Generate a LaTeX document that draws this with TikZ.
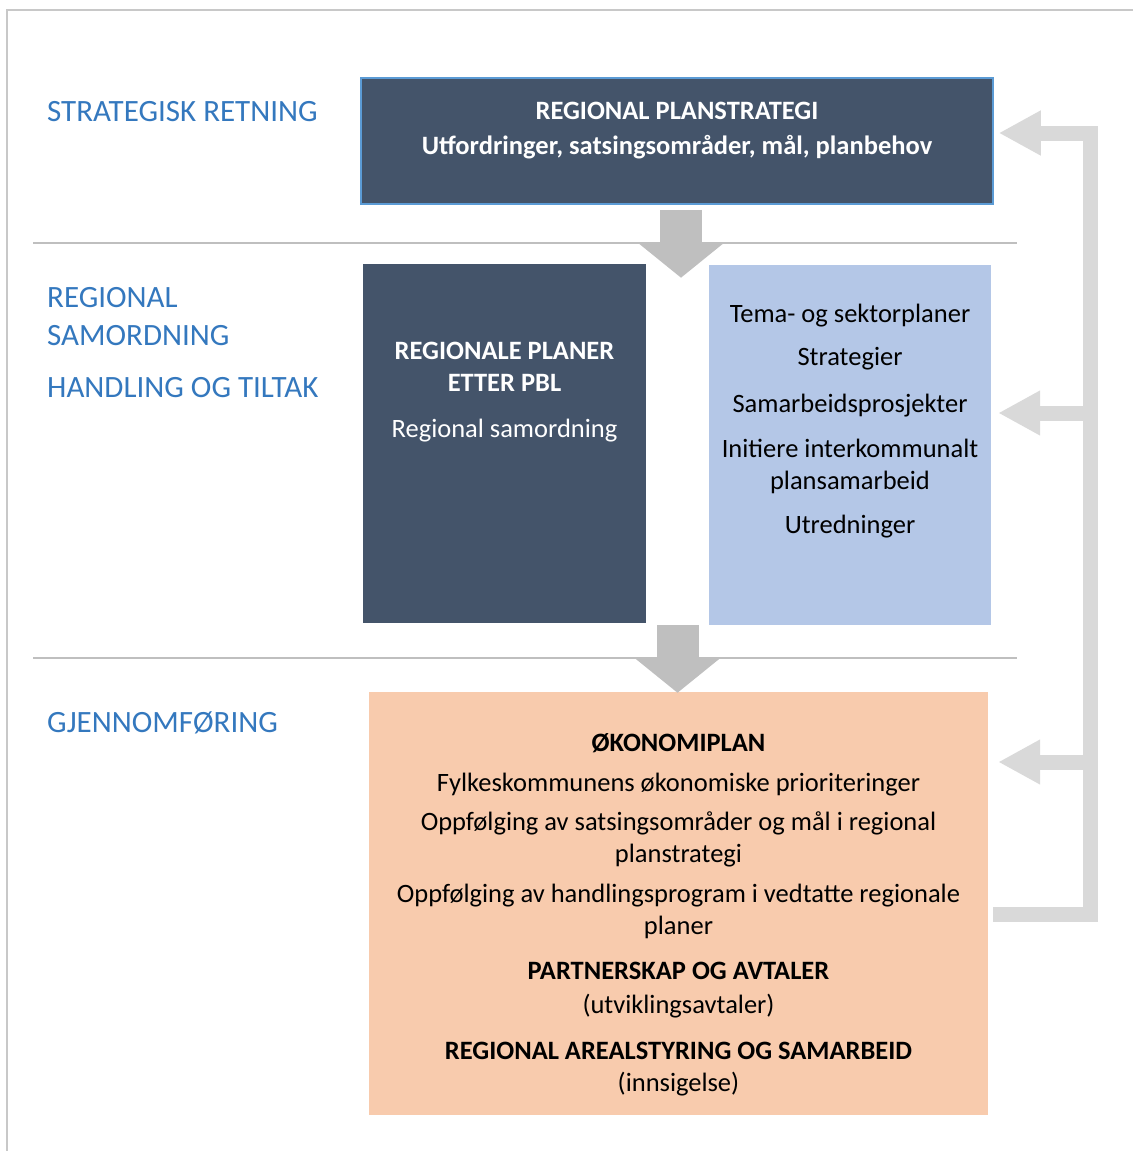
\documentclass[tikz,border=0pt]{standalone}
\usepackage{fontspec}
\setmainfont{Carlito}
\usetikzlibrary{arrows.meta,calc}

\definecolor{boxdark}{HTML}{44546A}
\definecolor{boxblue}{HTML}{B4C7E7}
\definecolor{boxpeach}{HTML}{F8CBAD}
\definecolor{labelblue}{RGB}{52,120,190}
\definecolor{edgeblue}{HTML}{5B9BD5}
\definecolor{arrowgrey}{HTML}{BFBFBF}
\definecolor{busgrey}{HTML}{D9D9D9}
\definecolor{framegrey}{HTML}{C8C8C8}

\tikzset{
	rowlabel/.style={anchor=base west, inner sep=0pt, text=labelblue, font=\fontsize{31}{36}\selectfont},
	planbox/.style={inner sep=0pt, anchor=center},
	boxtext/.style={anchor=base, inner sep=0pt, align=center, font=\fontsize{26.5}{32}\selectfont},
	divider/.style={draw=arrowgrey, line width=2pt},
	downarrow/.style={draw=arrowgrey, line width=42pt, -{Triangle[length=34pt,width=82pt]}},
	feedback/.style={draw=busgrey, line width=15pt, line join=miter, -{Triangle[length=42pt,width=42pt]}},
}

\begin{document}
\begin{tikzpicture}[x=1pt, y=-1pt]
	\useasboundingbox (0,0) rectangle (1133,1151);
	%\draw[help lines] (0,0) grid[step=100] (1133,1151);
	\draw[framegrey, line width=2pt] (7,1151) -- (7,10) -- (1133,10);
	\draw[divider] (33,243) -- (1017,243);
	\draw[divider] (33,658) -- (1017,658);

	\node[rowlabel] (lbl-strat) at (47,121) {STRATEGISK RETNING};
	\node[rowlabel] (lbl-reg) at (47,307) {REGIONAL};
	\node[rowlabel] (lbl-sam) at (47,345) {SAMORDNING};
	\node[rowlabel] (lbl-handl) at (47,397) {HANDLING OG TILTAK};
	\node[rowlabel] (lbl-gjen) at (47,732) {GJENNOMFØRING};

	\node[planbox, fill=boxdark, draw=edgeblue, line width=1.5pt, minimum width=632pt, minimum height=126pt] (strategi) at (677,141) {};
	\node[planbox, fill=boxdark, minimum width=283pt, minimum height=359pt] (planer) at (504.5,443.5) {};
	\node[planbox, fill=boxblue, minimum width=282pt, minimum height=360pt] (tema) at (850,445) {};
	\node[planbox, fill=boxpeach, minimum width=619pt, minimum height=423pt] (okonomi) at (678.5,903.5) {};

	% base of a multi-line node = baseline of its last line
	\node[boxtext, text=white] (strategi-txt) at (677,154) {\textbf{REGIONAL PLANSTRATEGI}\\[3pt]\textbf{Utfordringer, satsingsområder, mål, planbehov}};
	\node[boxtext, text=white] (planer-txt) at (504.5,437) {\textbf{REGIONALE PLANER}\\\textbf{ETTER PBL}\\[14pt]Regional samordning};
	\node[boxtext] (tema-txt) at (850,533) {Tema- og sektorplaner\\[11pt]Strategier\\[15pt]Samarbeidsprosjekter\\[13pt]Initiere interkommunalt\\plansamarbeid\\[12pt]Utredninger};
	\node[boxtext] (okonomi-txt) at (678.5,1091) {\textbf{ØKONOMIPLAN}\\[8pt]Fylkeskommunens økonomiske prioriteringer\\[7pt]Oppfølging av satsingsområder og mål i regional\\planstrategi\\[8pt]Oppfølging av handlingsprogram i vedtatte regionale\\planer\\[13pt]\textbf{PARTNERSKAP OG AVTALER}\\[2pt](utviklingsavtaler)\\[14pt]\textbf{REGIONAL AREALSTYRING OG SAMARBEID}\\(innsigelse)};

	\draw[downarrow] ($(strategi.south)+(4,5)$) -- ($(strategi.south)+(4,73)$);
	\draw[downarrow] ($(okonomi.north)+(-1,-67)$) -- ($(okonomi.north)+(-1,1)$);

	\coordinate (bus-top) at (1090,133);
	\coordinate (bus-mid) at (1090,413);
	\coordinate (bus-low) at (1090,762);
	\coordinate (bus-end) at (1090,914);
	\draw[feedback] ($(okonomi.east |- bus-end)+(5,0)$) -- (bus-end) -- (bus-top) -- ($(strategi.east |- bus-top)+(5,0)$);
	\draw[feedback] (bus-mid) -- ($(tema.east |- bus-mid)+(7,0)$);
	\draw[feedback] (bus-low) -- ($(okonomi.east |- bus-low)+(10,0)$);
\end{tikzpicture}
\end{document}
